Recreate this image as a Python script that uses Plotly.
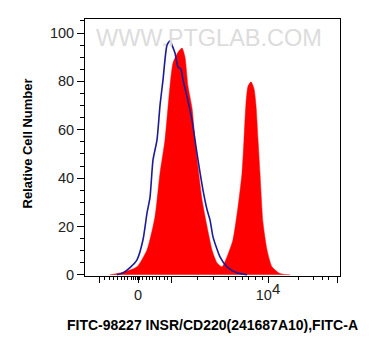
import plotly.graph_objects as go

# Display channel (0-1020) vs relative cell number
ctrl_x = [128, 152, 180, 208, 232, 248, 260, 272, 288, 300, 312, 328, 340, 348, 360,
          372, 384, 392, 408, 428, 440, 452, 472, 488, 500, 512, 540, 568, 608, 648]
ctrl_y = [0, 0.8, 3, 6.2, 14.5, 25.5, 32, 47.5, 55.8, 70, 80.6, 95, 96.8, 95, 91.7,
          86, 85, 80.6, 73.7, 64, 55.8, 47.5, 35, 27, 22.7, 15.7, 7.4, 3.3, 0.8, 0]

samp_x = [100, 128, 168, 208, 248, 280, 300, 320, 340, 352, 372, 388, 400, 412, 428,
          440, 452, 468, 488, 508, 528, 548, 568, 592, 612, 628, 636, 644, 652, 664,
          676, 684, 692, 700, 712, 728, 748, 780, 820]
samp_y = [0, 0.5, 1.5, 3.3, 10.3, 24, 42, 55.8, 78, 87.6, 92, 93.8, 90, 78, 69,
          55.8, 44.6, 31, 20, 10.3, 5, 3.3, 7.4, 14.5, 28, 42, 55.8, 71, 78, 79.8,
          77, 70, 56, 42, 21.5, 10.3, 3.3, 0.5, 0]

x_label_vals = [212, 732]
x_label_text = ["0", "10<sup><span style='font-size:15px'>4</span></sup>"]
x_long_vals = [56, 344, 1008]
x_minor_vals = [76, 96, 112, 128, 144, 156, 168, 184, 192, 200, 208, 216, 228, 244, 256,
                268, 284, 296, 316, 328, 448, 512, 572, 600, 628, 652, 680, 708,
                852, 912, 948, 972]
y_major_vals = [0, 20, 40, 60, 80, 100]

x_title = "FITC-98227 INSR/CD220(241687A10),FITC-A"
y_title = "Relative Cell Number"
watermark = "WWW.PTGLAB.COM"

fig = go.Figure()
fig.add_trace(go.Scatter(x=samp_x, y=samp_y, mode="lines", fill="tozeroy",
                         line=dict(color="#ff0000", width=0.5, shape="spline", smoothing=0.6),
                         fillcolor="#ff0000", hoverinfo="skip"))
fig.add_trace(go.Scatter(x=ctrl_x, y=ctrl_y, mode="lines",
                         line=dict(color="#1c1c96", width=1.6, shape="spline", smoothing=0.6),
                         hoverinfo="skip"))
# invisible trace to anchor the secondary tick axis
fig.add_trace(go.Scatter(x=[x_long_vals[0]], y=[0], xaxis="x2", mode="markers",
                         marker=dict(opacity=0), hoverinfo="skip"))

font_family = "Arial, Liberation Sans, sans-serif"
fig.update_layout(
    width=379, height=356,
    margin=dict(l=85, r=39, t=19, b=80),
    paper_bgcolor="white", plot_bgcolor="white",
    showlegend=False,
    font=dict(family=font_family, color="#222"),
    xaxis=dict(range=[0, 1020], showgrid=False, zeroline=False,
               showline=True, linecolor="black", linewidth=1, mirror=True,
               ticks="outside", ticklen=6, tickwidth=1, tickcolor="black",
               tickmode="array", tickvals=x_label_vals, ticktext=x_label_text,
               tickfont=dict(size=14.5, color="#222"),
               minor=dict(tickmode="array", tickvals=x_minor_vals, ticks="outside",
                          ticklen=3, tickcolor="black", tickwidth=1)),
    xaxis2=dict(range=[0, 1020], overlaying="x", side="bottom", anchor="y",
                showgrid=False, zeroline=False, showline=False,
                ticks="outside", ticklen=6, tickwidth=1, tickcolor="black",
                tickmode="array", tickvals=x_long_vals, showticklabels=False),
    yaxis=dict(range=[-0.5, 105.8], showgrid=False, zeroline=False,
               showline=True, linecolor="black", linewidth=1, mirror=True,
               ticks="outside", ticklen=7, tickwidth=1, tickcolor="black",
               tickmode="array", tickvals=y_major_vals,
               tickfont=dict(size=14.5, color="#222"),
               minor=dict(dtick=5, ticks="outside", ticklen=4, tickcolor="black", tickwidth=1)),
    annotations=[
        dict(text="<b>" + x_title + "</b>", xref="paper", yref="paper", x=0.5, y=0,
             yshift=-49, xanchor="center", yanchor="middle", showarrow=False,
             font=dict(size=14, color="black", family=font_family)),
        dict(text="<b>" + y_title + "</b>", xref="paper", yref="paper", x=0, y=0.5,
             xshift=-58, yshift=4, xanchor="center", yanchor="middle", showarrow=False,
             textangle=-90, font=dict(size=13, color="black", family=font_family)),
        dict(text=watermark, xref="paper", yref="paper", x=0.485, y=1, yshift=-19,
             xanchor="center", yanchor="middle", showarrow=False,
             font=dict(size=23.5, color="#dcdcdc", family=font_family)),
    ],
)

fig.write_html("out.html", config={"displayModeBar": False},
               post_script="document.body.style.margin='0';")
